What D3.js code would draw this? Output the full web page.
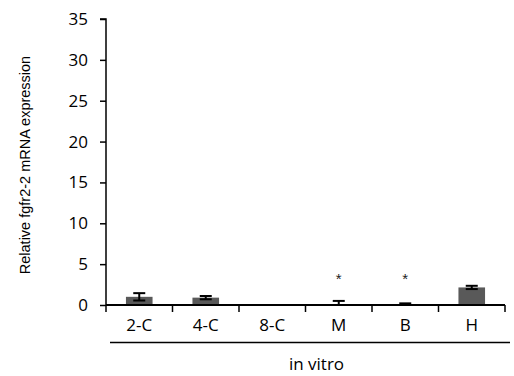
<!DOCTYPE html>
<html><head><meta charset="utf-8">
<script src="https://cdn.jsdelivr.net/npm/d3@7"></script>
<style>body{margin:0;background:#fff}svg{display:block}</style>
</head><body>
<script>
const categories = ["2-C","4-C","8-C","M","B","H"];
const values = [1.0, 0.9, 0.02, 0.05, 0.1, 2.15];
const errors = [0.45, 0.2, 0, 0.45, 0.1, 0.2];
const significant = [false, false, false, true, true, false];
const yTicks = [0,5,10,15,20,25,30,35];
const groupLabel = "in vitro";
const yTitle = "Relative fgfr2-2 mRNA expression";

const W = 514, H = 376;
const svg = d3.select("body").append("svg").attr("width", W).attr("height", H);
const x0 = 106, x1 = 505, yTop = 19, yBot = 305;
const x = d3.scaleBand().domain(categories).range([x0, x1]).paddingInner(0.6).paddingOuter(0.3);
const xb = d3.scaleBand().domain(categories).range([x0, x1]);
const y = d3.scaleLinear().domain([0, 35]).range([yBot, yTop]);
const font = "'Open Sans', 'Noto Sans', sans-serif";

// bars
svg.selectAll("rect.bar").data(categories).enter().append("rect")
  .attr("x", d => x(d)).attr("width", x.bandwidth())
  .attr("y", (d,i) => y(values[i])).attr("height", (d,i) => yBot - y(values[i]))
  .attr("fill", "#595959");

// error bars
const cap = 6;
categories.forEach((c,i) => {
  if (errors[i] <= 0) return;
  const cx = x(c) + x.bandwidth()/2;
  const lo = Math.max(0, values[i]-errors[i]), hi = values[i]+errors[i];
  const g = svg.append("g").attr("stroke","#000").attr("stroke-width",2);
  g.append("line").attr("x1",cx).attr("x2",cx).attr("y1",y(lo)).attr("y2",y(hi));
  g.append("line").attr("x1",cx-cap).attr("x2",cx+cap).attr("y1",y(hi)).attr("y2",y(hi));
  if (values[i]-errors[i] > 0.05)
    g.append("line").attr("x1",cx-cap).attr("x2",cx+cap).attr("y1",y(lo)).attr("y2",y(lo));
});

// asterisks
categories.forEach((c,i) => {
  if (!significant[i]) return;
  svg.append("text").attr("x", x(c)+x.bandwidth()/2).attr("y", 284)
    .attr("text-anchor","middle").attr("font-family","'Liberation Sans', Arial, sans-serif")
    .attr("font-size",15).attr("fill","#222").text("*");
});

// y axis
const yAxis = d3.axisLeft(y).tickValues(yTicks).tickSize(6).tickPadding(12);
const ga = svg.append("g").attr("transform",`translate(${x0},0)`).call(yAxis);
ga.select(".domain").attr("stroke","#000").attr("stroke-width",1.5).attr("d",`M-6,${yTop}H0V${yBot}`);
ga.selectAll(".tick line").attr("stroke","#000").attr("stroke-width",1.5);
ga.selectAll(".tick text").attr("font-family",font).attr("font-size",17).attr("fill","#000");

// x axis
const xAxis = d3.axisBottom(xb).tickSize(0).tickPadding(14);
const gx = svg.append("g").attr("transform",`translate(0,${yBot})`).call(xAxis);
gx.select(".domain").attr("stroke","#000").attr("stroke-width",2).attr("d",`M${x0},0H${x1}`);
gx.selectAll(".tick text").attr("font-family",font).attr("font-size",17).attr("fill","#000");
// boundary ticks
const bounds = categories.map(c => xb(c)).concat([x1]);
svg.selectAll("line.bt").data(bounds).enter().append("line")
  .attr("x1",d=>d).attr("x2",d=>d).attr("y1",yBot).attr("y2",yBot+7)
  .attr("stroke","#000").attr("stroke-width",1.5);

// group line and label
svg.append("line").attr("x1",110).attr("x2",510).attr("y1",342.5).attr("y2",342.5)
  .attr("stroke","#000").attr("stroke-width",1.5);
svg.append("text").attr("x",316.5).attr("y",370).attr("text-anchor","middle")
  .attr("font-family",font).attr("font-size",17).text(groupLabel);

// y title
svg.append("text").attr("transform","translate(30,165) rotate(-90)").attr("text-anchor","middle")
  .attr("font-family","'Liberation Sans', Arial, sans-serif").attr("font-size",14.5).text(yTitle);
</script>
</body></html>
